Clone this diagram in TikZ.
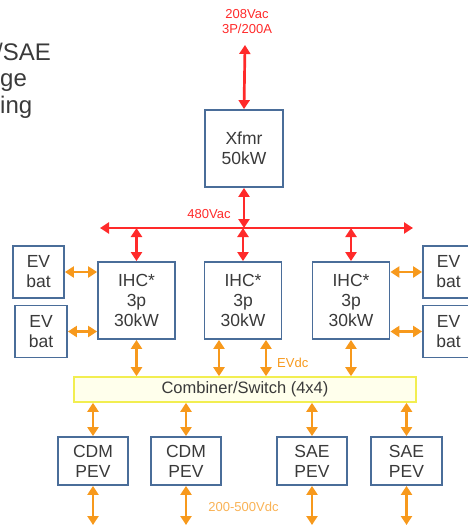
\documentclass[tikz,border=0pt]{standalone}
\usepackage{fontspec}
\setmainfont{Liberation Sans}
\usetikzlibrary{arrows.meta}
\definecolor{boxblue}{HTML}{4A6D99}
\definecolor{txt}{HTML}{3A3A3A}
\definecolor{redc}{HTML}{FF2A2A}
\definecolor{orc}{HTML}{F7991C}
\definecolor{ylw}{HTML}{F2EE50}
\definecolor{ylwfill}{HTML}{FFFFEC}
\tikzset{
  box/.style={draw=boxblue, line width=1.8pt, fill=white, text=txt,
    font=\fontsize{17.5}{20}\selectfont, align=center, inner sep=0pt},
  tip/.tip={Triangle[length=9pt,width=11pt]},
  rarr/.style={draw=redc, line width=2.7pt, {tip}-{tip}},
  oarr/.style={draw=orc, line width=2.7pt, {tip}-{tip}},
  rlab/.style={text=redc, font=\fontsize{13}{15}\selectfont, align=center, inner sep=0pt},
  olab/.style={text=orc, font=\fontsize{13}{15}\selectfont, inner sep=0pt},
  title/.style={text=txt, font=\fontsize{24}{27}\selectfont, inner sep=0pt, anchor=base west}
}
\begin{document}
\begin{tikzpicture}[x=1pt,y=-1pt]
\useasboundingbox (0,0) rectangle (468,527);
\clip (0,0) rectangle (468,527);
% title fragments
\node[title] (t1) at (-4,60) {/SAE};
\node[title] (t2) at (0,86) {ge};
\node[title] (t3) at (0,113) {ing};
% transformer
\node[rlab] (src) at (247,21.5) {208Vac\\3P/200A};
\coordinate (srcpt) at (245,45);
\node[box, minimum width=78pt, minimum height=77pt] (xf) at (244,148.5) {Xfmr\\50kW};
\draw[rarr] (srcpt) -- (xf.north);
% bus
\coordinate (busL) at (100,228);
\coordinate (busR) at (413,228);
\draw[rarr] (busL) -- (busR);
\draw[rarr] (xf.south) -- (xf.south |- busL);
\node[rlab] (l480) at (209,214) {480Vac};
% IHC boxes
\node[box, minimum width=77pt, minimum height=77pt] (i1) at (136.5,300.5) {IHC*\\3p\\30kW};
\node[box, minimum width=77pt, minimum height=77pt] (i2) at (243,300.5) {IHC*\\3p\\30kW};
\node[box, minimum width=77pt, minimum height=77pt] (i3) at (351,300.5) {IHC*\\3p\\30kW};
\draw[rarr] (i1.north |- busL) -- (i1.north);
\draw[rarr] (i2.north |- busL) -- (i2.north);
\draw[rarr] (i3.north |- busL) -- (i3.north);
% EV batteries
\node[box, minimum width=51pt, minimum height=52pt] (e1) at (38.5,272) {EV\\bat};
\node[box, minimum width=52pt, minimum height=52pt] (e2) at (41,331.5) {EV\\bat};
\node[box, minimum width=51pt, minimum height=52pt] (e3) at (448.5,272) {EV\\bat};
\node[box, minimum width=51pt, minimum height=52pt] (e4) at (448.5,331.5) {EV\\bat};
\draw[oarr] (e1.east) -- (e1.east -| i1.west);
\draw[oarr] (e2.east) -- (e2.east -| i1.west);
\draw[oarr] (e3.west) -- (e3.west -| i3.east);
\draw[oarr] (e4.west) -- (e4.west -| i3.east);
% combiner
\node[draw=ylw, line width=1.6pt, fill=ylwfill, text=txt, minimum width=342pt, minimum height=25pt,
  inner sep=0pt, font=\fontsize{16.5}{18}\selectfont] (cb) at (245,389.5) {Combiner/Switch (4x4)};
\coordinate (x219) at (219,0);
\coordinate (x266) at (266,0);
\draw[oarr] (i1.south) -- (i1.south |- cb.north);
\draw[oarr] (i2.south -| x219) -- (cb.north -| x219);
\draw[oarr] (i2.south -| x266) -- (cb.north -| x266);
\draw[oarr] (i3.south) -- (i3.south |- cb.north);
\node[olab, anchor=west] (evdc) at (277,363) {EVdc};
% PEV boxes
\node[box, minimum width=70pt, minimum height=48pt] (p1) at (93,461) {CDM\\PEV};
\node[box, minimum width=70pt, minimum height=48pt] (p2) at (186,461) {CDM\\PEV};
\node[box, minimum width=70pt, minimum height=48pt] (p3) at (312,461) {SAE\\PEV};
\node[box, minimum width=71pt, minimum height=48pt] (p4) at (406.5,461) {SAE\\PEV};
\coordinate (yb) at (0,525);
\foreach \p in {p1,p2,p3,p4}{
  \draw[oarr] (\p.north |- cb.south) -- (\p.north);
  \draw[oarr] (\p.south) -- (\p.south |- yb);
}
\node[olab, text=orc!75] (vdc) at (243.5,507) {200-500Vdc};
\end{tikzpicture}
\end{document}
